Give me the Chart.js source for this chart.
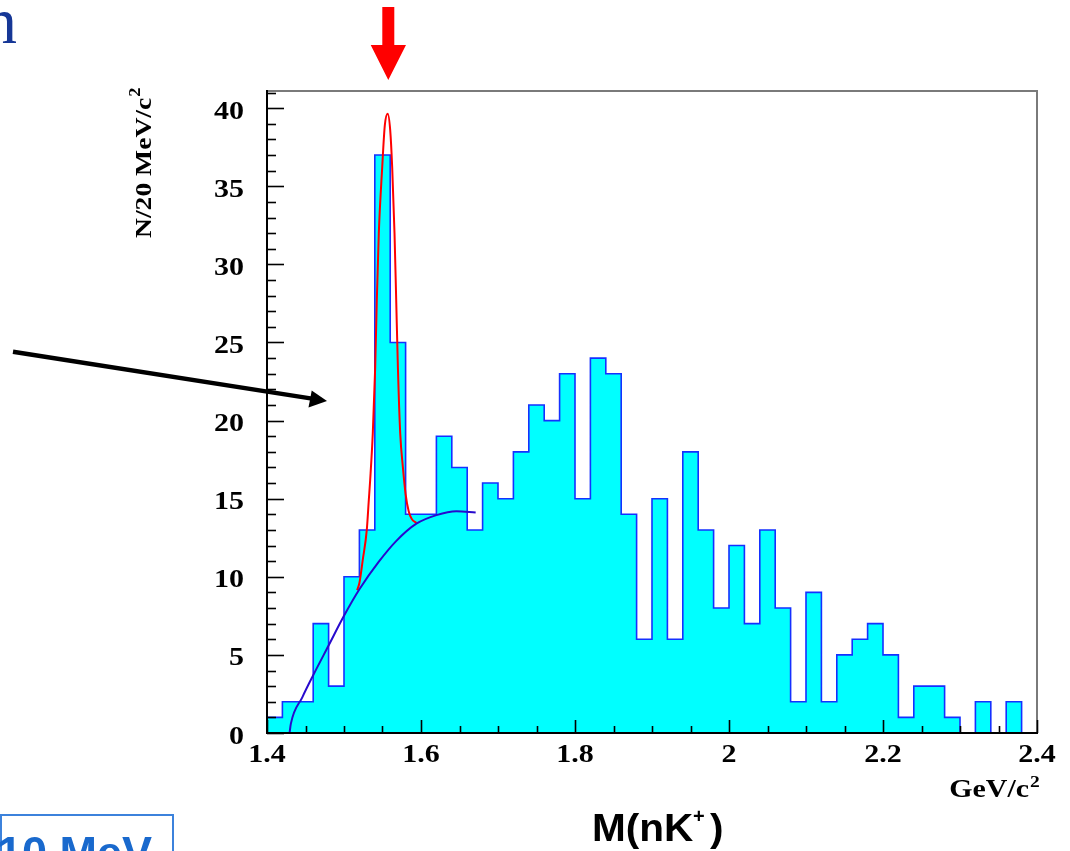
<!DOCTYPE html>
<html>
<head>
<meta charset="utf-8">
<title>M(nK+) invariant mass</title>
<script src="https://cdn.jsdelivr.net/npm/chart.js@4/dist/chart.umd.min.js"></script>
<style>
  html, body { margin: 0; padding: 0; background: #ffffff; }
  #wrap { position: relative; width: 1070px; height: 851px; overflow: hidden; }
  canvas { display: block; }
</style>
</head>
<body>
<div id="wrap"><canvas id="c" width="1070" height="851"></canvas></div>
<script>
// Histogram bin edges (GeV/c^2), 20 MeV bins
const binEdges = [1.40, 1.42, 1.44, 1.46, 1.48, 1.50, 1.52, 1.54, 1.56, 1.58,
                  1.60, 1.62, 1.64, 1.66, 1.68, 1.70, 1.72, 1.74, 1.76, 1.78,
                  1.80, 1.82, 1.84, 1.86, 1.88, 1.90, 1.92, 1.94, 1.96, 1.98,
                  2.00, 2.02, 2.04, 2.06, 2.08, 2.10, 2.12, 2.14, 2.16, 2.18,
                  2.20, 2.22, 2.24, 2.26, 2.28, 2.30, 2.32, 2.34, 2.36, 2.38, 2.40];

// Entries per bin
const binCounts = [1, 2, 2, 7, 3, 10, 13, 37, 25, 14,
                   14, 19, 17, 13, 16, 15, 18, 21, 20, 23,
                   15, 24, 23, 14, 6, 15, 6, 18, 13, 8,
                   12, 7, 13, 8, 2, 9, 2, 5, 6, 7,
                   5, 1, 3, 3, 1, 0, 2, 0, 2, 0];

// Fit: peak + background (red curve)
const fitMass  = [1.517, 1.520, 1.5244, 1.5296, 1.5322, 1.534, 1.5374, 1.5405, 1.5426, 1.5452,
                  1.5496, 1.5530, 1.5567, 1.5600, 1.5626, 1.5656, 1.5678, 1.5700, 1.5730, 1.5765,
                  1.5800, 1.5840, 1.5880, 1.5940];
const fitValue = [9.15, 9.6, 11.1, 13.0, 14.9, 16.2, 19.2, 23.4, 27.7, 32.0,
                  36.2, 38.9, 39.65, 38.6, 36.2, 32.0, 27.7, 23.4, 19.2, 17.0,
                  15.3, 14.2, 13.7, 13.45];

// Background component of the fit (blue curve)
const bgMass  = [1.4293, 1.4310, 1.4460, 1.4600, 1.4800, 1.5000, 1.5200, 1.5450, 1.5680, 1.5940,
                 1.6200, 1.6460, 1.6710];
const bgValue = [0.0, 0.6, 2.3, 3.7, 5.6, 7.5, 9.2, 10.95, 12.3, 13.4,
                 13.95, 14.2, 14.12];

// Axis ticks and labels
const xTickValues = [1.4, 1.6, 1.8, 2.0, 2.2, 2.4];
const xTickLabels = ['1.4', '1.6', '1.8', '2', '2.2', '2.4'];
const yTickValues = [0, 5, 10, 15, 20, 25, 30, 35, 40];
const yTickLabels = ['0', '5', '10', '15', '20', '25', '30', '35', '40'];

const X_MIN = 1.4, X_MAX = 2.4, Y_MAX = 41.1;

const histPoints = [{ x: binEdges[0], y: 0 }];
binCounts.forEach((n, i) => histPoints.push({ x: binEdges[i], y: n }));
histPoints.push({ x: binEdges[binEdges.length - 1], y: binCounts[binCounts.length - 1] });
histPoints.push({ x: binEdges[binEdges.length - 1], y: 0 });

const fitPoints = fitMass.map((m, i) => ({ x: m, y: fitValue[i] }));
const bgPoints = bgMass.map((m, i) => ({ x: m, y: bgValue[i] }));

const SERIF = '"Liberation Serif", "Times New Roman", serif';
const SANS = '"Liberation Sans", Arial, sans-serif';

function drawText(ctx, text, x, y, font, color, sx, align) {
  ctx.save();
  ctx.font = font;
  ctx.fillStyle = color;
  ctx.textBaseline = 'alphabetic';
  ctx.textAlign = 'left';
  const w = ctx.measureText(text).width * sx;
  let left = x;
  if (align === 'center') left = x - w / 2;
  else if (align === 'right') left = x - w;
  ctx.translate(left, y);
  ctx.scale(sx, 1);
  ctx.fillText(text, 0, 0);
  ctx.restore();
  return w;
}

// Frame, ticks, labels and the marks around the plot
const decorations = {
  id: 'decorations',
  afterDatasetsDraw(chart) {
    const ctx = chart.ctx;
    const xs = chart.scales.x, ys = chart.scales.y;
    const a = chart.chartArea;
    const L = a.left, R = a.right, T = a.top, B = a.bottom;

    ctx.save();
    // frame: top and right in grey, axes in black
    ctx.lineCap = 'butt';
    ctx.strokeStyle = '#7a7a7a';
    ctx.lineWidth = 2;
    ctx.beginPath();
    ctx.moveTo(L, T); ctx.lineTo(R, T); ctx.lineTo(R, B);
    ctx.stroke();
    ctx.strokeStyle = '#000000';
    ctx.beginPath();
    ctx.moveTo(L, T - 1); ctx.lineTo(L, B); ctx.lineTo(R + 1, B);
    ctx.stroke();

    // y ticks: every unit, long every 5
    ctx.lineWidth = 1.6;
    for (let v = 0; v <= Math.floor(Y_MAX); v++) {
      const py = Math.round(ys.getPixelForValue(v)) + 0.5;
      const len = (v % 5 === 0) ? 17 : 9;
      ctx.beginPath();
      ctx.moveTo(L, py); ctx.lineTo(L + len, py);
      ctx.stroke();
    }
    // x ticks: every 0.05, long at labelled values
    for (let k = 0; k <= 20; k++) {
      const v = X_MIN + k * 0.05;
      const px = Math.round(xs.getPixelForValue(v)) + 0.5;
      const len = (k % 4 === 0) ? 13 : 7;
      ctx.beginPath();
      ctx.moveTo(px, B); ctx.lineTo(px, B - len);
      ctx.stroke();
    }

    // tick labels
    const tickFont = 'bold 25px ' + SERIF;
    yTickValues.forEach((v, i) => {
      drawText(ctx, yTickLabels[i], 244, ys.getPixelForValue(v) + 10.5, tickFont, '#000', 1.2, 'right');
    });
    xTickValues.forEach((v, i) => {
      drawText(ctx, xTickLabels[i], xs.getPixelForValue(v), 762, tickFont, '#000', 1.2, 'center');
    });

    // x unit
    const gw = drawText(ctx, 'GeV/c', 1029, 797, 'bold 26px ' + SERIF, '#000', 1.15, 'right');
    drawText(ctx, '2', 1030, 787, 'bold 17px ' + SERIF, '#000', 1.15, 'left');

    // y title, rotated
    ctx.save();
    ctx.translate(151, 238);
    ctx.rotate(-Math.PI / 2);
    const tw = drawText(ctx, 'N/20 MeV/c', 0, 0, 'bold 24px ' + SERIF, '#000', 1.15, 'left');
    drawText(ctx, '2', tw + 1, -11, 'bold 16px ' + SERIF, '#000', 1.15, 'left');
    ctx.restore();

    // mass axis caption
    const mw = 101;
    drawText(ctx, 'M(nK', 592, 840.5, 'bold 39px ' + SANS, '#000', 1.04, 'left');
    drawText(ctx, '+', 693, 822.5, 'bold 20px ' + SANS, '#000', 1.0, 'left');
    drawText(ctx, ')', 710, 840.5, 'bold 39px ' + SANS, '#000', 1.04, 'left');

    // red arrow above the peak
    ctx.fillStyle = '#ff0000';
    ctx.beginPath();
    ctx.moveTo(382.3, 7); ctx.lineTo(394.3, 7); ctx.lineTo(394.3, 45);
    ctx.lineTo(406, 45); ctx.lineTo(388.3, 80); ctx.lineTo(370.7, 45);
    ctx.lineTo(382.3, 45); ctx.closePath();
    ctx.fill();

    // black pointer arrow
    ctx.strokeStyle = '#000';
    ctx.fillStyle = '#000';
    ctx.lineWidth = 4.5;
    ctx.beginPath();
    ctx.moveTo(13, 351.7); ctx.lineTo(312, 398.6);
    ctx.stroke();
    ctx.beginPath();
    ctx.moveTo(327, 401); ctx.lineTo(311.7, 390.5); ctx.lineTo(308.5, 407.5);
    ctx.closePath();
    ctx.fill();

    // partial title letter, top left
    drawText(ctx, 'n', 17, 43, '66px ' + SERIF, 'rgb(22,55,150)', 1.0, 'right');

    // resolution box, bottom left
    ctx.strokeStyle = 'rgb(60,130,220)';
    ctx.lineWidth = 2;
    ctx.strokeRect(1, 815, 172, 60);
    drawText(ctx, '10 MeV', -3, 868, 'bold 45px ' + SANS, 'rgb(25,105,205)', 1.0, 'left');

    ctx.restore();
  }
};

new Chart(document.getElementById('c'), {
  type: 'line',
  data: {
    datasets: [
      {
        label: 'data',
        data: histPoints,
        stepped: 'before',
        borderColor: '#1530ff',
        borderWidth: 1.6,
        backgroundColor: '#00ffff',
        fill: 'origin',
        pointRadius: 0,
        order: 3
      },
      {
        label: 'fit',
        data: fitPoints,
        borderColor: '#ff0000',
        borderWidth: 2,
        cubicInterpolationMode: 'monotone',
        fill: false,
        pointRadius: 0,
        order: 2
      },
      {
        label: 'background',
        data: bgPoints,
        borderColor: 'rgb(40,10,205)',
        borderWidth: 2,
        cubicInterpolationMode: 'monotone',
        fill: false,
        pointRadius: 0,
        order: 1
      }
    ]
  },
  options: {
    responsive: false,
    animation: false,
    devicePixelRatio: 1,
    layout: { padding: { left: 267, right: 33, top: 91, bottom: 118 } },
    scales: {
      x: { type: 'linear', min: X_MIN, max: X_MAX, display: false },
      y: { type: 'linear', min: 0, max: Y_MAX, display: false }
    },
    plugins: {
      legend: { display: false },
      tooltip: { enabled: false },
      title: { display: false }
    }
  },
  plugins: [decorations]
});
</script>
</body>
</html>
